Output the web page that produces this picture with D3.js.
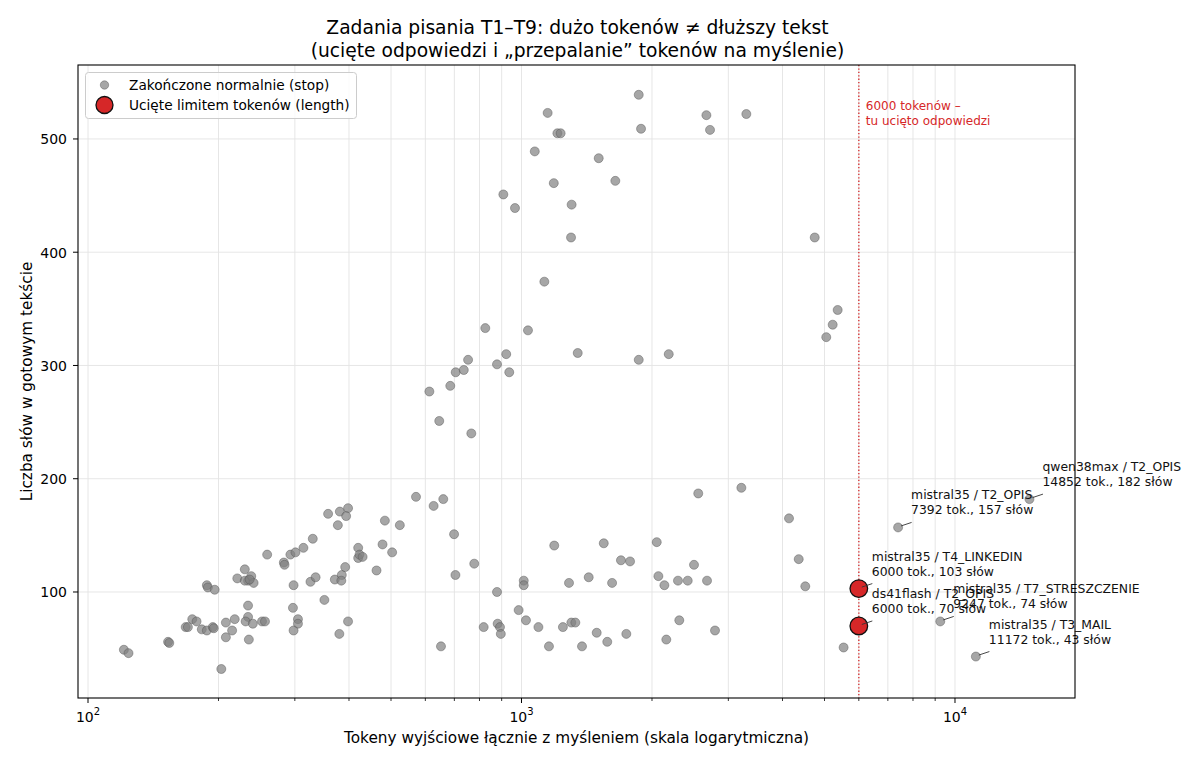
<!DOCTYPE html>
<html><head><meta charset="utf-8">
<script src="https://cdn.jsdelivr.net/npm/d3@7"></script>
<style>
html,body{margin:0;padding:0;background:#fff;}
svg{display:block;font-family:"DejaVu Sans",sans-serif;}
</style></head>
<body><svg id="c" width="1200" height="764"></svg>
<script>
// ---- data ----
const stopTokens = [121,124,153,154,188,189,196,174,178,168,170,183,188,194,195,203,208,218,215,208,230,221,234,238,241,230,236,234,234,231,240,235,252,256,259,283,284,293,301,314,330,298,297,305,305,298,326,335,351,358,377,381,398,394,371,385,384,392,380,398,420,420,423,430,463,478,484,503,524,
571,627,660,699,704,652,778,878,818,881,892,896,985,1012,1012,1024,1094,1157,1190,1287,1246,1303,1331,1379,1429,1491,1548,1618,1577,1696,1780,1745,2051,2069,
2136,2296,2418,2500,2679,2557,3215,2312,2158,2795,4141,4360,4515,5534,
825,1035,922,753,878,937,705,736,685,613,646,766,1348,1864,2186,
1864,1149,1210,1231,1887,2670,2722,3301,1073,1507,1646,1187,908,966,1305,1301,1129,
4747,5362,5222,5047,
7392,14852,9247,11172];
const stopWords = [49,46,56,55,106,104,102,76,74,69,69,67,66,69,68,32,73,76,66,60,120,112,110,114,108,110,111,88,78,74,72,58,74,74,133,126,124,133,135,139,147,106,86,76,72,66,109,113,93,169,159,171,174,167,111,115,110,122,63,74,139,130,133,131,119,142,163,135,159,
184,176,182,151,115,52,125,100,69,72,69,63,84,110,106,75,69,52,141,108,69,73,73,52,113,64,143,108,56,128,127,63,144,114,
106,110,110,124,110,187,192,75,58,66,165,129,105,51,
333,331,310,305,301,294,294,296,282,277,251,240,311,305,310,
539,523,505,505,509,521,508,522,489,483,463,461,451,439,442,413,374,
413,349,336,325,
157,182,74,43];
const lengthTokens = [6000,6000];
const lengthWords = [103,70];
const annLabels = ["qwen38max / T2_OPIS","mistral35 / T2_OPIS","mistral35 / T4_LINKEDIN","ds41flash / T2_OPIS","mistral35 / T7_STRESZCZENIE","mistral35 / T3_MAIL"];
const annTokens = [14852,7392,6000,6000,9247,11172];
const annWords = [182,157,103,70,74,43];
const xTickValues = [100,1000,10000];
const xTickExp = ["2","3","4"];
const yTickValues = [100,200,300,400,500];
const limitTokens = 6000;

// ---- layout ----
const svg = d3.select("#c");
const L=78, R=1075, T=65, B=698;
const x = d3.scaleLog().domain([Math.pow(10,1.97693), Math.pow(10,4.27682)]).range([L,R]);
const y = d3.scaleLinear().domain([6.4,565.3]).range([B,T]);

// minor ticks
const minor=[];
for (let d=100; d<=10000; d*=10) for (let k=2;k<=9;k++){const v=d*k; if (v>=x.domain()[0] && v<=x.domain()[1]) minor.push(v);}
const grid = svg.append("g");
grid.selectAll("line.gx").data(xTickValues.concat(minor)).join("line")
  .attr("x1",d=>x(d)).attr("x2",d=>x(d)).attr("y1",T).attr("y2",B)
  .attr("stroke","#e3e3e3").attr("stroke-width",0.9);
grid.selectAll("line.gy").data(yTickValues).join("line")
  .attr("x1",L).attr("x2",R).attr("y1",d=>y(d)).attr("y2",d=>y(d))
  .attr("stroke","#e3e3e3").attr("stroke-width",0.9);

// limit line
svg.append("line").attr("x1",x(limitTokens)).attr("x2",x(limitTokens)).attr("y1",T).attr("y2",B)
  .attr("stroke","#d62728").attr("stroke-width",1.3).attr("stroke-dasharray","1.3,2.1");
const lt = svg.append("text").attr("fill","#d62728").attr("font-size",12);
lt.append("tspan").attr("x",x(limitTokens)+7).attr("y",110).text("6000 tokenów –");
lt.append("tspan").attr("x",x(limitTokens)+7).attr("y",125).text("tu ucięto odpowiedzi");

// stop points
const stopData = stopTokens.map((t,i)=>({t, w:stopWords[i]}));
svg.append("g").selectAll("circle").data(stopData).join("circle")
  .attr("cx",d=>x(d.t)).attr("cy",d=>y(d.w)).attr("r",4.5)
  .attr("fill","#808080").attr("fill-opacity",0.7)
  .attr("stroke","#555").attr("stroke-opacity",0.45).attr("stroke-width",1);

// length points
const lenData = lengthTokens.map((t,i)=>({t, w:lengthWords[i]}));
svg.append("g").selectAll("circle").data(lenData).join("circle")
  .attr("cx",d=>x(d.t)).attr("cy",d=>y(d.w)).attr("r",8.8)
  .attr("fill","#d62728").attr("stroke","#111").attr("stroke-width",1.3);

// annotations
const ann = svg.append("g").attr("font-size",12.4).attr("fill","#111");
annLabels.forEach((lab,i)=>{
  const px=x(annTokens[i]), py=y(annWords[i]);
  ann.append("line").attr("x1",px+3).attr("y1",py-1.5).attr("x2",px+13.5).attr("y2",py-5)
    .attr("stroke","#333").attr("stroke-width",0.9);
  const t = ann.append("text");
  t.append("tspan").attr("x",px+13).attr("y",py-28).text(lab);
  t.append("tspan").attr("x",px+13).attr("y",py-13).text(d3.format("d")(annTokens[i])+" tok., "+annWords[i]+" słów");
});

// spines
svg.append("rect").attr("x",L).attr("y",T).attr("width",R-L).attr("height",B-T)
  .attr("fill","none").attr("stroke","#000").attr("stroke-width",1.1);

// x ticks
const xa = svg.append("g");
xa.selectAll("line.M").data(xTickValues).join("line")
  .attr("x1",d=>x(d)).attr("x2",d=>x(d)).attr("y1",B).attr("y2",B+5).attr("stroke","#000").attr("stroke-width",1);
xa.selectAll("line.m").data(minor).join("line")
  .attr("x1",d=>x(d)).attr("x2",d=>x(d)).attr("y1",B).attr("y2",B+3).attr("stroke","#000").attr("stroke-width",0.8);
xTickValues.forEach((v,i)=>{
  const t = xa.append("text").attr("x",x(v)).attr("y",722).attr("text-anchor","middle").attr("font-size",14);
  t.append("tspan").text("10");
  t.append("tspan").attr("dy",-7).attr("font-size",10).text(xTickExp[i]);
});
// y ticks
const ya = svg.append("g");
ya.selectAll("line").data(yTickValues).join("line")
  .attr("x1",L-5).attr("x2",L).attr("y1",d=>y(d)).attr("y2",d=>y(d)).attr("stroke","#000").attr("stroke-width",1);
ya.selectAll("text").data(yTickValues).join("text")
  .attr("x",L-11).attr("y",d=>y(d)+5.3).attr("text-anchor","end").attr("font-size",14).text(d=>d);

// axis labels
svg.append("text").attr("x",(L+R)/2).attr("y",743).attr("text-anchor","middle").attr("font-size",15.3)
  .text("Tokeny wyjściowe łącznie z myśleniem (skala logarytmiczna)");
svg.append("text").attr("transform",`translate(32,${(T+B)/2}) rotate(-90)`).attr("text-anchor","middle").attr("font-size",15.3)
  .text("Liczba słów w gotowym tekście");

// title
const tt = svg.append("text").attr("text-anchor","middle").attr("font-size",18.7);
tt.append("tspan").attr("x",(L+R)/2+1).attr("y",34).text("Zadania pisania T1–T9: dużo tokenów ≠ dłuższy tekst");
tt.append("tspan").attr("x",(L+R)/2+1).attr("y",57).text("(ucięte odpowiedzi i „przepalanie” tokenów na myślenie)");

// legend
const lg = svg.append("g");
lg.append("rect").attr("x",85.5).attr("y",72.5).attr("width",271).attr("height",46).attr("rx",3)
  .attr("fill","#fff").attr("fill-opacity",0.8).attr("stroke","#ccc").attr("stroke-width",1);
lg.append("circle").attr("cx",104.5).attr("cy",85).attr("r",4.2).attr("fill","#808080").attr("fill-opacity",0.7)
  .attr("stroke","#555").attr("stroke-opacity",0.45);
lg.append("circle").attr("cx",104.5).attr("cy",105).attr("r",8.5).attr("fill","#d62728").attr("stroke","#111").attr("stroke-width",1.3);
lg.append("text").attr("x",129).attr("y",90).attr("font-size",13.7).text("Zakończone normalnie (stop)");
lg.append("text").attr("x",129).attr("y",110).attr("font-size",13.7).text("Ucięte limitem tokenów (length)");
</script></body></html>
